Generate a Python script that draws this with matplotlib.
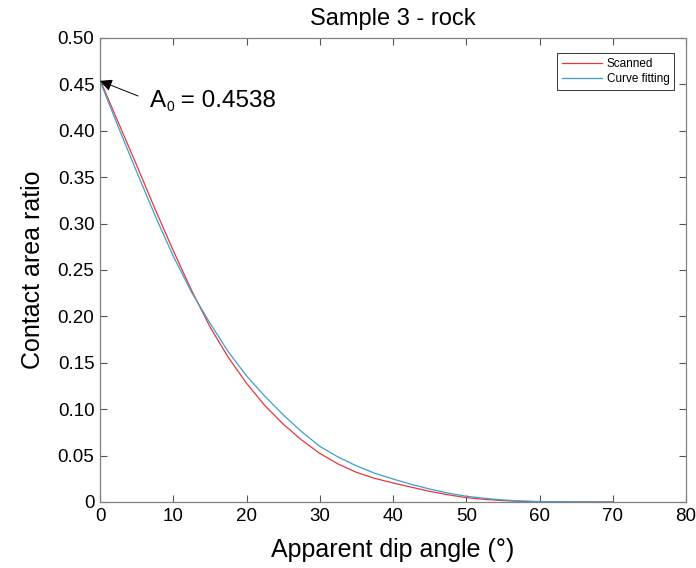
import matplotlib
matplotlib.use("Agg")
import matplotlib.pyplot as plt
from matplotlib.ticker import FixedLocator, FuncFormatter

plt.rcParams['font.family'] = ['Liberation Sans', 'DejaVu Sans']

angle = [0, 2.5, 5, 7.5, 10, 12.5, 15, 17.5, 20, 22.5, 25, 27.5, 30, 32.5, 35,
         37.5, 40, 42.5, 45, 47.5, 50, 52.5, 55, 57.5, 60, 62.5, 65, 67.5, 70]
scanned = [0.455, 0.409, 0.363, 0.316, 0.271, 0.228, 0.189, 0.156, 0.128, 0.104,
           0.084, 0.067, 0.0524, 0.041, 0.032, 0.0255, 0.0205, 0.016, 0.0115, 0.0078,
           0.0047, 0.0028, 0.0015, 0.0007, 0.0003, 0.0001, 0.00005, 0.00002, 0.0]
fitting = [0.4538, 0.404, 0.356, 0.309, 0.265, 0.226, 0.193, 0.162, 0.136, 0.114,
           0.094, 0.076, 0.060, 0.0485, 0.039, 0.031, 0.0248, 0.019, 0.014, 0.0096,
           0.0062, 0.0040, 0.0022, 0.0011, 0.0005, 0.0002, 0.0001, 0.00003, 0.0]
x_ticks = [0, 10, 20, 30, 40, 50, 60, 70, 80]
y_ticks = [0, 0.05, 0.10, 0.15, 0.20, 0.25, 0.30, 0.35, 0.40, 0.45, 0.50]
A0 = 0.4538

fig = plt.figure(figsize=(6.96, 5.68), dpi=100)
ax = fig.add_axes([100/696, 66/568, 586/696, 464/568])

ax.plot(angle, scanned, color='#e8363c', lw=0.9, label='Scanned')
ax.plot(angle, fitting, color='#3f9fcc', lw=0.9, label='Curve fitting')

ax.set_xlim(0, 80)
ax.set_ylim(0, 0.5)
ax.xaxis.set_major_locator(FixedLocator(x_ticks))
ax.yaxis.set_major_locator(FixedLocator(y_ticks))
ax.yaxis.set_major_formatter(FuncFormatter(lambda v, p: '0' if v == 0 else f'{v:.2f}'))
ax.xaxis.set_major_formatter(FuncFormatter(lambda v, p: f'{v:.0f}'))
ax.tick_params(direction='in', length=5, width=0.8, color='#555555',
               top=True, right=True, labelsize=13.5, pad=4)
for s in ax.spines.values():
    s.set_color('#808080')
    s.set_linewidth(0.9)

ax.set_xlabel('Apparent dip angle (°)', fontsize=18, labelpad=10)
ax.set_ylabel('Contact area ratio', fontsize=18, labelpad=9)
ax.set_title('Sample 3 - rock', fontsize=17, pad=9)

ax.annotate('', xy=(0, A0), xytext=(5.2, 0.4375),
            arrowprops=dict(arrowstyle='-|>', color='black', lw=0.7,
                            mutation_scale=18, shrinkA=0, shrinkB=0))
tA = ax.text(6.8, 0.432, 'A', fontsize=17.5, va='center', ha='left')
t0 = ax.annotate('0', xy=(1, 0), xycoords=tA, xytext=(0.3, -1.2),
                 textcoords='offset points', fontsize=10, va='bottom', ha='left')
ax.annotate(' = 0.4538', xy=(1, 0), xycoords=(t0, tA), xytext=(0, 0),
            textcoords='offset points', fontsize=17.5, va='bottom', ha='left')

leg = ax.legend(loc='upper right', fontsize=8.5, frameon=True, fancybox=False,
                edgecolor='#333333', framealpha=1, handlelength=3.4, handletextpad=0.4,
                borderpad=0.4, labelspacing=0.3, borderaxespad=0,
                bbox_to_anchor=(0.9795, 0.9677))
leg.get_frame().set_linewidth(0.7)

fig.savefig('out.png', dpi=100)
